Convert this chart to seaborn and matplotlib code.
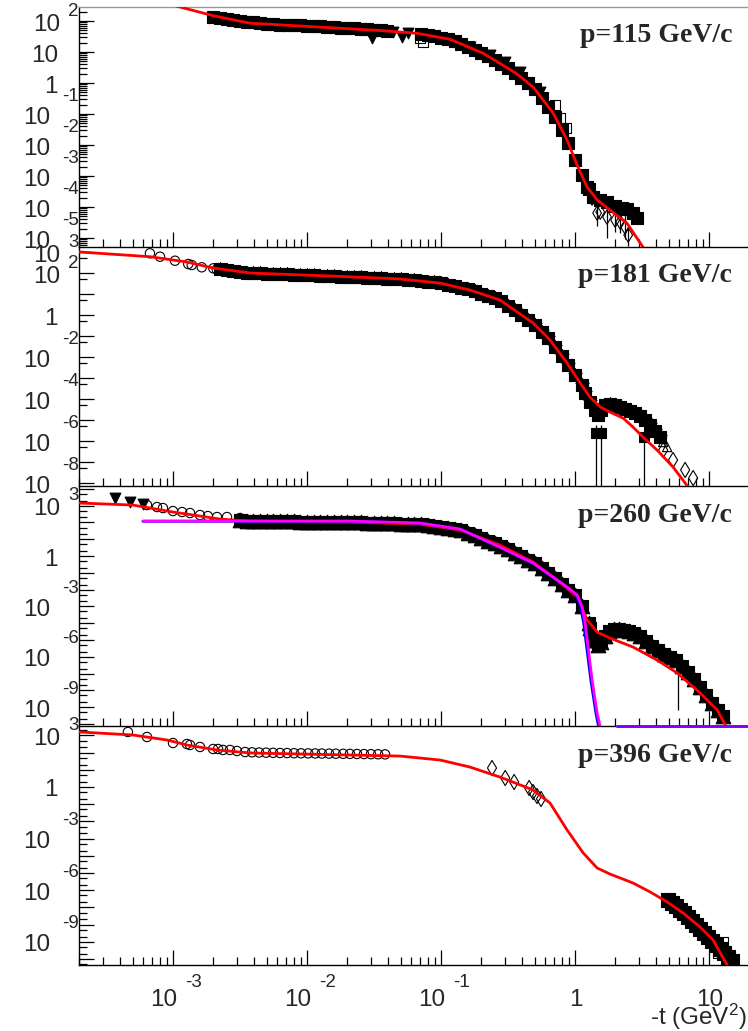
import numpy as np
import matplotlib
matplotlib.use("Agg")
import matplotlib.pyplot as plt
import matplotlib.transforms as mtransforms
from matplotlib.ticker import LogLocator, NullFormatter
import seaborn as sns

# ------------------------------------------------------------------ data
x_range = (1.99e-4, 19.5)

# ---- p = 115 GeV/c
y_range_115 = (5.13e-6, 283)
x115_fit = [6.7e-4, 1.13e-3, 2.0e-3, 3.76e-3, 8.9e-3, 0.0369, 0.0662, 0.117, 0.206, 0.275,
            0.369, 0.486, 0.686, 0.871, 1.05, 1.23, 1.46, 1.82, 2.44, 3.21, 4.3]
y115_fit = [513, 282, 148, 85, 69, 48.7, 40, 25.7, 9.1, 4.3,
            1.95, 0.74, 0.107, 0.0145, 1.95e-3, 4.4e-4, 1.7e-4, 8.0e-5, 3.0e-5, 5.1e-6, 9.3e-7]
x115_sq = [2.00e-3, 2.24e-3, 2.51e-3, 2.82e-3, 3.16e-3, 3.55e-3, 3.98e-3, 4.47e-3, 5.01e-3,
           5.62e-3, 6.31e-3, 7.08e-3, 7.94e-3, 8.91e-3, 0.0100, 0.0112, 0.0126, 0.0141,
           0.0158, 0.0178, 0.0200, 0.0224, 0.0251, 0.0282, 0.0316, 0.0355, 0.0398,
           0.0708, 0.0794, 0.0891, 0.100, 0.112, 0.126, 0.141, 0.158, 0.178, 0.200, 0.224,
           0.251, 0.282, 0.316, 0.355, 0.398, 0.447, 0.501, 0.562, 0.631, 0.708, 0.794,
           0.891, 1.00, 1.12, 1.26,
           1.23, 1.36, 1.54, 1.73, 1.99, 2.24, 2.44, 2.71, 2.90]
y115_sq = [135, 125, 117, 108, 101, 95, 90, 86, 83,
           80, 77, 75, 73, 72, 71, 69, 67, 65,
           63, 61, 59, 58, 56, 54, 52, 51, 49,
           38.1, 34.8, 31.8, 28.9, 26.5, 22.3, 18.1, 14.6, 11.9, 9.64, 7.33,
           5.48, 4.07, 2.98, 2.18, 1.49, 1.0, 0.627, 0.326, 0.171, 0.0818, 0.0314,
           0.0114, 3.26e-3, 1.06e-3, 3.86e-4,
           4.4e-4, 2.1e-4, 1.68e-4, 1.45e-4, 1.08e-4, 9.3e-5, 8.6e-5, 6.4e-5, 4.4e-5]
x115_tri = [0.0305, 0.0439, 0.0512, 0.0567, 0.164, 0.232, 0.301, 0.389, 0.548]
y115_tri = [28.3, 44.2, 30.5, 41.0, 14.5, 8.0, 4.76, 2.26, 0.513]
x115_osq = [0.0697, 0.0734, 0.710, 0.773, 0.857]
y115_osq = [28.3, 21.0, 0.195, 0.0743, 0.0353]
x115_dia = [1.34, 1.46, 1.54, 1.73, 1.99, 2.17, 2.36, 2.49]
y115_dia = [1.95e-4, 6.4e-5, 6.9e-5, 4.75e-5, 3.8e-5, 3.3e-5, 2.26e-5, 1.25e-5]
x115_err = [1.46, 1.73, 1.99, 2.17, 2.36, 2.49]
lo115_err = [2.5e-5, 1.0e-5, 1.6e-5, 1.4e-5, 9.0e-6, 5.5e-6]
hi115_err = [1.5e-4, 1.68e-4, 9.0e-5, 7.5e-5, 5.5e-5, 2.8e-5]

# ---- p = 181 GeV/c
y_range_181 = (7.24e-9, 1730)
x181_fit = [2.02e-4, 6.73e-4, 1.27e-3, 1.99e-3, 3.76e-3, 0.0149, 0.0494, 0.0984, 0.164, 0.275,
            0.486, 0.650, 0.871, 1.09, 1.29, 1.54, 1.82, 2.28, 2.71, 3.21, 4.09, 5.38, 6.97, 9.0]
y181_fit = [1000, 597, 334, 173, 100, 72, 52, 33, 15.5, 5.2,
            0.416, 0.0646, 5.2e-3, 5.8e-4, 1.24e-4, 4.2e-5, 2.4e-5, 1.24e-5, 4.6e-6, 1.55e-6,
            3.7e-7, 5.8e-8, 6.5e-9, 5e-10]
x181_circ = [6.73e-4, 8.0e-4, 1.035e-3, 1.30e-3, 1.38e-3, 1.64e-3, 2.00e-3, 2.12e-3]
y181_circ = [867, 597, 385, 268, 240, 187, 167, 150]
x181_band = [2.24e-3, 2.51e-3, 2.82e-3, 3.16e-3, 3.55e-3, 3.98e-3, 4.47e-3, 5.01e-3, 5.62e-3,
             6.31e-3, 7.08e-3, 7.94e-3, 8.91e-3, 0.0100, 0.0112, 0.0126, 0.0141, 0.0158,
             0.0178, 0.0200, 0.0224, 0.0251, 0.0282, 0.0316, 0.0355, 0.0398, 0.0447, 0.0501,
             0.0562, 0.0631, 0.0708, 0.0794, 0.0891, 0.100, 0.112, 0.126, 0.141, 0.158, 0.178,
             0.200, 0.224, 0.251, 0.282, 0.316, 0.355, 0.398, 0.447, 0.501, 0.562, 0.631,
             0.708, 0.794, 0.891, 1.00, 1.12,
             1.19, 1.29, 1.41, 1.48, 1.56, 1.67, 1.82, 1.99, 2.17, 2.36, 2.57, 2.80, 3.06,
             3.33, 3.63, 3.95, 4.31]
y181_band = [157, 142, 129, 117, 104, 98.9, 95.7, 93.6, 90.6,
             88.7, 85.8, 83.9, 81.2, 79.4, 76.9, 75.2, 72.8, 70.4,
             68.1, 66.7, 64.5, 62.4, 60.4, 58.4, 56.5, 54.7, 53.5, 51.3,
             47.5, 44.4, 41.1, 38.1, 35.7, 32.7, 27.4, 23.0, 19.5, 16.4, 13.2,
             10.3, 8.03, 6.31, 4.69, 2.80, 1.67, 1.01, 0.604, 0.341, 0.164, 0.0786,
             0.0313, 0.0115, 4.16e-3, 1.35e-3, 4.45e-4,
             1.93e-4, 7.2e-5, 3.0e-5, 1.73e-5, 3.0e-5, 5.2e-5, 5.8e-5, 5.2e-5, 4.2e-5, 3.3e-5,
             2.7e-5, 2.15e-5, 1.55e-5, 1.0e-5, 5.8e-6, 3.0e-6, 1.55e-6]
x181_otri = [4.54, 4.86]
y181_otri = [9.0e-7, 5.2e-7]
x181_dia = [4.54, 5.38, 6.62, 7.60]
y181_dia = [3.7e-7, 1.25e-7, 4.2e-8, 1.73e-8]
x181_err = [1.44, 1.56, 3.27]
y181_err = [2.4e-6, 2.4e-6, 1.55e-6]
lo181_err = [1e-12, 1e-12, 1e-12]
hi181_err = [5.8e-6, 5.8e-6, 1.55e-6]

# ---- p = 260 GeV/c
y_range_260 = (7.59e-11, 1.48e4)
x260_fit = [2.02e-4, 5.02e-4, 1.0e-3, 1.59e-3, 2.24e-3, 3.76e-3, 0.0209, 0.0697, 0.139, 0.275,
            0.486, 0.734, 1.035, 1.23, 1.46, 1.82, 2.71, 4.09, 5.77, 8.57, 11.5, 13.2, 14.9]
y260_fit = [1430, 1086, 416, 240, 159, 121, 106, 80, 35, 4.5,
            0.44, 0.037, 3.6e-3, 1.55e-4, 3.0e-5, 1.3e-5, 3.8e-6, 6.4e-7, 1.1e-7, 7.0e-9,
            6.8e-10, 8.7e-11, 1.1e-11]
x260_mag = [5.97e-4, 3.76e-3, 0.0209, 0.0697, 0.139, 0.275, 0.486, 0.871, 1.035, 1.13, 1.19,
            1.25, 1.34, 1.46, 1.54]
y260_mag = [121, 121, 121, 92, 40, 3.4, 0.38, 0.0143, 4.8e-3, 9.2e-4, 1.0e-4,
            3.8e-6, 4.2e-8, 4.5e-10, 6.6e-11]
x260_blue = [5.97e-4, 3.76e-3, 0.0209, 0.0697, 0.139, 0.275, 0.486, 0.871, 1.02, 1.10, 1.16,
             1.22, 1.31, 1.43, 1.50]
y260_blue = [118, 118, 118, 90, 39, 3.3, 0.37, 0.0140, 4.8e-3, 9.2e-4, 1.0e-4,
             3.8e-6, 4.2e-8, 4.5e-10, 6.6e-11]
x260_floor = [2.06, 19.5]
y260_floor = [7.7e-11, 7.7e-11]
x260_dtri = [3.69e-4, 4.78e-4, 5.97e-4]
y260_dtri = [2830, 1640, 1245]
x260_circ = [6.40e-4, 7.60e-4, 8.42e-4, 1.0e-3, 1.17e-3, 1.34e-3, 1.59e-3, 1.82e-3, 2.13e-3,
             2.53e-3, 3.16e-3]
y260_circ = [1086, 826, 719, 477, 416, 363, 276, 240, 210, 210, 183]
x260_band = [3.16e-3, 3.55e-3, 3.98e-3, 4.47e-3, 5.01e-3, 5.62e-3, 6.31e-3, 7.08e-3, 7.94e-3,
             8.91e-3, 0.0100, 0.0112, 0.0126, 0.0141, 0.0158, 0.0178, 0.0200, 0.0224, 0.0251,
             0.0282, 0.0316, 0.0355, 0.0398, 0.0447, 0.0501, 0.0562, 0.0631, 0.0708, 0.0794,
             0.0891, 0.100, 0.112, 0.126, 0.141, 0.158, 0.178, 0.200, 0.224, 0.251, 0.282,
             0.316, 0.355, 0.398, 0.447, 0.501, 0.562, 0.631, 0.708, 0.794, 0.891, 1.00,
             1.12, 1.26, 1.41,
             1.29, 1.39, 1.48,
             1.56, 1.67, 1.79, 1.96, 2.13, 2.32, 2.53, 2.76, 3.06, 3.39, 3.76, 4.16, 4.61,
             5.12, 5.67, 6.29, 6.97, 7.73, 8.57, 9.51, 10.5, 11.7, 12.7]
y260_band = [133, 124, 121, 119, 118, 118, 116, 115, 115,
             113, 112, 112, 110, 109, 109, 107, 106, 104, 101,
             98.6, 95.9, 93.3, 90.8, 88.4, 86.0, 84.9, 82.6, 79.2, 69.1,
             60.3, 51.8, 45.2, 39.4, 33.4, 23.7, 16.8, 11.8, 8.37, 5.94, 4.10,
             2.58, 1.59, 1.00, 0.619, 0.363, 0.183, 0.0921, 0.0464, 0.0218, 0.0100, 4.58e-3,
             1.06e-3, 1.03e-4, 1.0e-5,
             5.2e-5, 1.0e-5, 5.0e-6,
             7.6e-6, 1.73e-5, 3.43e-5, 4.5e-5, 4.5e-5, 3.9e-5, 3.43e-5, 2.6e-5, 1.73e-5,
             8.7e-6, 4.4e-6, 2.54e-6, 1.47e-6,
             9.7e-7, 6.5e-7, 2.83e-7, 1.25e-7, 4.8e-8, 1.6e-8, 5.3e-9, 1.78e-9, 6.8e-10, 3.0e-10]
x260_err = [5.87]
lo260_err = [6.8e-10]
hi260_err = [5.6e-7]

# ---- p = 396 GeV/c
y_range_396 = (4.47e-11, 3520)
x396_fit = [2.02e-4, 5.02e-4, 9.02e-4, 1.27e-3, 2.13e-3, 3.76e-3, 8.87e-3, 0.0494, 0.0984,
            0.164, 0.275, 0.486, 0.650, 0.871, 1.15, 1.46, 1.82, 2.71, 3.63, 4.86, 6.40,
            8.57, 10.7, 13.6]
y396_fit = [1580, 1055, 540, 277, 142, 95, 83, 63, 37,
            14.5, 3.8, 0.67, 0.117, 3.2e-3, 1.45e-4, 1.95e-5, 8.7e-6, 2.6e-6, 7.9e-7, 2.06e-7,
            4.7e-8, 7.2e-9, 1.27e-9, 4.5e-11]
x396_circ = [4.61e-4, 6.40e-4, 1.0e-3, 1.27e-3, 1.34e-3, 1.59e-3, 1.99e-3, 2.17e-3, 2.36e-3,
             2.66e-3, 3.00e-3, 3.45e-3, 3.89e-3, 4.39e-3, 4.95e-3, 5.58e-3, 6.29e-3, 7.10e-3,
             8.00e-3, 9.02e-3, 0.0102, 0.0115, 0.0129, 0.0146, 0.0164, 0.0186, 0.0209, 0.0236,
             0.0266, 0.0300, 0.0339, 0.0382]
y396_circ = [1577, 807, 361, 316, 277, 212, 162, 162, 142,
             142, 124, 108, 104, 101, 99, 97, 95, 94,
             92, 91, 90, 89, 88, 87, 86, 85, 84, 83,
             82, 81, 80, 79]
x396_dia = [0.240, 0.301, 0.351, 0.454, 0.486, 0.520, 0.557]
y396_dia = [12.7, 3.34, 1.95, 0.875, 0.512, 0.300, 0.201]
x396_sq = [4.94, 5.30, 5.67, 6.08, 6.51, 6.97, 7.46, 8.00, 8.57, 9.18, 9.84, 10.5, 11.3, 12.1,
           12.9, 13.9, 14.9]
y396_sq = [2.69e-7, 1.80e-7, 1.21e-7, 7.1e-8, 4.7e-8, 2.77e-8, 1.62e-8, 9.5e-9, 5.5e-9,
           3.25e-9, 1.9e-9, 1.11e-9, 6.5e-10, 3.8e-10, 2.23e-10, 1.31e-10, 7.7e-11]
x396_osq = [12.7, 11.7]
y396_osq = [9.7e-10, 2.23e-10]

# ---- labels
panel_titles = ["p=115 GeV/c", "p=181 GeV/c", "p=260 GeV/c", "p=396 GeV/c"]
yticks_115 = [1e2, 1e1, 1, 1e-1, 1e-2, 1e-3, 1e-4, 1e-5]
ylabels_115 = ["10^2", "10", "1", "10^-1", "10^-2", "10^-3", "10^-4", "10^-5"]
yticks_181 = [1e3, 1e2, 1, 1e-2, 1e-4, 1e-6, 1e-8]
ylabels_181 = ["10^3", "10^2", "1", "10^-2", "10^-4", "10^-6", "10^-8"]
yticks_260 = [1e3, 1, 1e-3, 1e-6, 1e-9]
ylabels_260 = ["10^3", "1", "10^-3", "10^-6", "10^-9"]
yticks_396 = [1e3, 1, 1e-3, 1e-6, 1e-9]
ylabels_396 = ["10^3", "1", "10^-3", "10^-6", "10^-9"]
xticks = [1e-3, 1e-2, 1e-1, 1, 10]
xlabels = ["10^-3", "10^-2", "10^-1", "1", "10"]
xlabel_text = r"-t (GeV$^{2}$)"

# ------------------------------------------------------------------ style
sns.set_style("white")
plt.rcParams["font.family"] = ["Liberation Sans", "DejaVu Sans"]
plt.rcParams["mathtext.fontset"] = "custom"
plt.rcParams["mathtext.rm"] = "Liberation Sans"
plt.rcParams["mathtext.it"] = "Liberation Sans"

W, H = 748, 1031
FS_TICK = 17.5
FS_EXP = 13.5
FS_TITLE = 20

fig = plt.figure(figsize=(W / 100, H / 100), dpi=100)
fig.patch.set_facecolor("white")
panel_px = [(7, 247), (247, 486), (486, 726), (726, 965)]
yranges = [y_range_115, y_range_181, y_range_260, y_range_396]
yminor_subs = [np.arange(2, 10), (5,), (2, 5), (2, 5)]

axes = []
for i, (top, bot) in enumerate(panel_px):
    ax = fig.add_axes([79 / W, 1 - bot / H, (W - 79) / W, (bot - top) / H])
    ax.patch.set_visible(False)
    ax.set_xscale("log")
    ax.set_yscale("log")
    ax.set_xlim(*x_range)
    ax.set_ylim(*yranges[i])
    ax.xaxis.set_major_locator(LogLocator(base=10, numticks=60))
    ax.xaxis.set_minor_locator(LogLocator(base=10, subs=np.arange(2, 10), numticks=60))
    ax.yaxis.set_major_locator(LogLocator(base=10, numticks=60))
    ax.yaxis.set_minor_locator(LogLocator(base=10, subs=yminor_subs[i], numticks=60))
    ax.xaxis.set_major_formatter(NullFormatter())
    ax.xaxis.set_minor_formatter(NullFormatter())
    ax.yaxis.set_major_formatter(NullFormatter())
    ax.yaxis.set_minor_formatter(NullFormatter())
    ax.tick_params(which="both", direction="in", bottom=True, left=True, top=False, right=False,
                   labelbottom=False, labelleft=False, color="black", width=0.9)
    ax.tick_params(which="major", length=10.8)
    ax.tick_params(which="minor", length=5.5)
    for s in ["left", "bottom"]:
        ax.spines[s].set_color("black")
        ax.spines[s].set_linewidth(1.0)
    ax.spines["right"].set_visible(False)
    if i == 0:
        ax.spines["top"].set_color("#999999")
        ax.spines["top"].set_linewidth(1.0)
    else:
        ax.spines["top"].set_visible(False)
    axes.append(ax)

ax1, ax2, ax3, ax4 = axes


def pts(ax, x, y, marker, s, filled=True, lw=0.8, z=2):
    if filled:
        sns.scatterplot(x=x, y=y, ax=ax, marker=marker, s=s, color="black",
                        edgecolor="black", linewidth=lw, legend=False, zorder=z)
    else:
        sns.scatterplot(x=x, y=y, ax=ax, marker=marker, s=s, facecolors="none",
                        edgecolor="black", linewidth=lw, legend=False, zorder=z)


def curve(ax, x, y, color, lw=2.0, z=5, clip=True):
    sns.lineplot(x=x, y=y, ax=ax, color=color, linewidth=lw, estimator=None, sort=False,
                 legend=False, zorder=z, clip_on=clip)


# panel 1
ax1.vlines(x115_err, lo115_err, hi115_err, color="black", linewidth=0.9, zorder=1)
pts(ax1, x115_sq, y115_sq, "s", 68)
pts(ax1, x115_tri, y115_tri, "v", 60)
pts(ax1, x115_osq, y115_osq, "s", 45, filled=False)
pts(ax1, x115_dia, y115_dia, "d", 55, filled=False)
curve(ax1, x115_fit, y115_fit, "red")

# panel 2
ax2.vlines(x181_err, lo181_err, hi181_err, color="black", linewidth=0.9, zorder=1)
pts(ax2, x181_err, y181_err, "s", 60)
pts(ax2, x181_band, y181_band, "s", 75)
pts(ax2, x181_band, y181_band, "*", 110, lw=0.5)
pts(ax2, x181_circ, y181_circ, "o", 45, filled=False)
pts(ax2, x181_otri, y181_otri, "^", 45, filled=False)
pts(ax2, x181_dia, y181_dia, "d", 60, filled=False)
curve(ax2, x181_fit, y181_fit, "red")

# panel 3
ax3.vlines(x260_err, lo260_err, hi260_err, color="black", linewidth=0.9, zorder=1)
pts(ax3, x260_band, y260_band, "s", 70)
pts(ax3, x260_band, y260_band, "^", 110)
pts(ax3, x260_dtri, y260_dtri, "v", 60)
pts(ax3, x260_circ, y260_circ, "o", 45, filled=False)
curve(ax3, x260_fit, y260_fit, "red")
curve(ax3, x260_blue, y260_blue, "blue", z=6)
curve(ax3, x260_mag, y260_mag, "magenta", z=7)
curve(ax3, x260_floor, y260_floor, "blue", z=6, clip=False)
sns.lineplot(x=x260_floor, y=y260_floor, ax=ax3, color="magenta", linewidth=2.0, alpha=0.5,
             estimator=None, sort=False, legend=False, zorder=7, clip_on=False)

# panel 4
pts(ax4, x396_circ, y396_circ, "o", 45, filled=False)
pts(ax4, x396_dia, y396_dia, "d", 60, filled=False)
pts(ax4, x396_sq, y396_sq, "s", 95)
pts(ax4, x396_osq, y396_osq, "s", 50, filled=False)
curve(ax4, x396_fit, y396_fit, "red")

for ax in axes:
    ax.set_xlabel("")
    ax.set_ylabel("")


# ------------------------------------------------------------------ ROOT-like labels
def draw_ylabels(ax, vals, labs):
    tr = mtransforms.blended_transform_factory(fig.transFigure, ax.transData)
    t_base = mtransforms.offset_copy(tr, fig=fig, y=-9.5, units="dots")
    for v, lab in zip(vals, labs):
        if "^" in lab:
            b, e = lab.split("^")
            neg = e.startswith("-")
            ax.text((50 if neg else 60) / W, v, b, transform=t_base, ha="right",
                    va="baseline", fontsize=FS_TICK)
            t_exp = mtransforms.offset_copy(tr, fig=fig, y=(13.5 if neg else 5.5), units="dots")
            ax.text((62 if neg else 68) / W, v, e, transform=t_exp, ha="left",
                    va="baseline", fontsize=FS_EXP)
        else:
            ax.text(58 / W, v, lab, transform=t_base, ha="right", va="baseline",
                    fontsize=FS_TICK)


draw_ylabels(ax1, yticks_115, ylabels_115)
draw_ylabels(ax2, yticks_181, ylabels_181)
draw_ylabels(ax3, yticks_260, ylabels_260)
draw_ylabels(ax4, yticks_396, ylabels_396)

xtr = mtransforms.blended_transform_factory(ax4.transData, fig.transFigure)
for v, lab in zip(xticks, xlabels):
    if "^" in lab:
        b, e = lab.split("^")
        ax4.text(v, 1 - 1006 / H, b, transform=mtransforms.offset_copy(xtr, fig=fig, x=4, units="dots"),
                 ha="right", va="baseline", fontsize=FS_TICK)
        ax4.text(v, 1 - 987 / H, e, transform=mtransforms.offset_copy(xtr, fig=fig, x=12, units="dots"),
                 ha="left", va="baseline", fontsize=FS_EXP)
    else:
        ax4.text(v, 1 - 1006 / H, lab, transform=mtransforms.offset_copy(xtr, fig=fig, x=1, units="dots"),
                 ha="center", va="baseline", fontsize=FS_TICK)

fig.text(747 / W, 1 - 1017 / H, xlabel_text, ha="right", va="center", fontsize=17.5)

for (top, bot), title in zip(panel_px, panel_titles):
    fig.text(732 / W, 1 - (top + 29) / H, title, ha="right", va="center",
             fontsize=FS_TITLE, fontweight="bold", family=["Liberation Serif", "DejaVu Serif"])

fig.savefig("out.png", dpi=100, facecolor="white")
